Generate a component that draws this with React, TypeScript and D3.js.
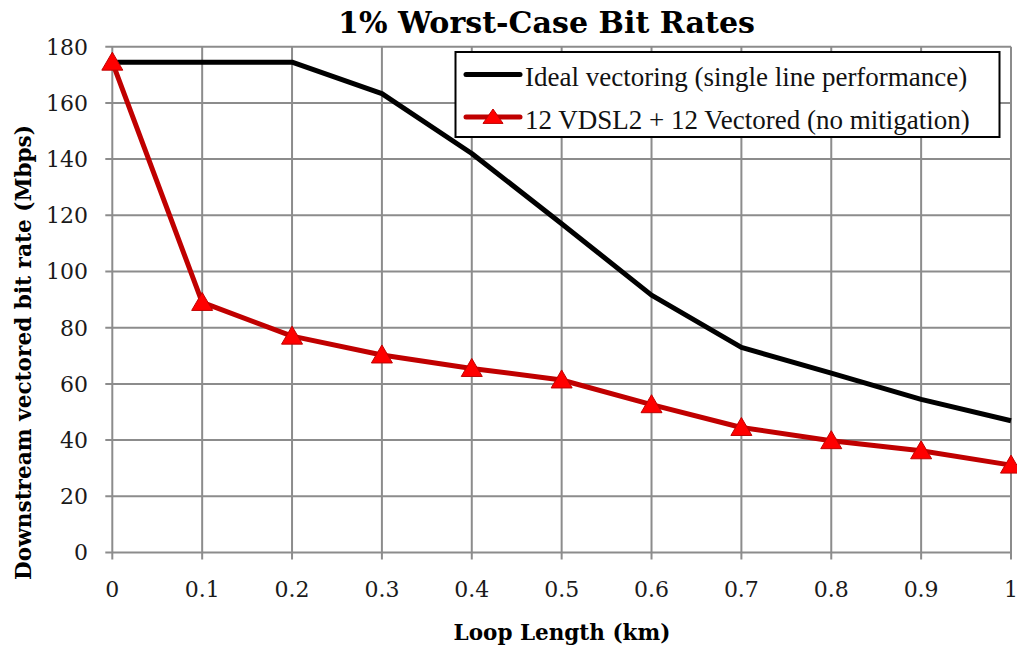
import React from "react";
import * as d3 from "d3";

const loopLength = [0, 0.1, 0.2, 0.3, 0.4, 0.5, 0.6, 0.7, 0.8, 0.9, 1];
const idealVectoring = [174.5, 174.5, 174.5, 163.3, 142, 117, 91.6, 73, 63.8, 54.5, 46.9];
const mixedVectored = [174.5, 89, 77, 70.3, 65.5, 61.4, 52.6, 44.5, 39.8, 36.2, 31.1];
const xTicks = [0, 0.1, 0.2, 0.3, 0.4, 0.5, 0.6, 0.7, 0.8, 0.9, 1];
const yTicks = [0, 20, 40, 60, 80, 100, 120, 140, 160, 180];
const seriesNames = [
  "Ideal vectoring (single line performance)",
  "12 VDSL2 + 12 Vectored (no mitigation)",
];
const title = "1% Worst-Case Bit Rates";
const xLabel = "Loop Length (km)";
const yLabel = "Downstream vectored bit rate (Mbps)";

const W = 1017;
const H = 645;
const SERIF = "'Liberation Serif', serif";
const WIDE = "'DejaVu Serif', serif";

export default function App() {
  const x = d3.scaleLinear().domain([0, 1]).range([112.3, 1011]);
  const y = d3.scaleLinear().domain([0, 180]).range([552.5, 46.7]);
  const grid = "#8c8c8c";

  const line = d3
    .line<number>()
    .x((_, i) => x(loopLength[i]))
    .y((d) => y(d));

  const tri = (cx: number, cy: number, w = 10.5, h = 10) =>
    `M${cx},${cy - h} L${cx + w},${cy + h * 0.8} L${cx - w},${cy + h * 0.8} Z`;

  return (
    <svg
      width={W}
      height={H}
      style={{ position: "absolute", left: 0, top: 0, background: "#fff" }}
    >
      <rect x={0} y={0} width={W} height={H} fill="#fff" />
      {yTicks.map((t) => (
        <g key={"y" + t}>
          <line x1={x(0) - 7} x2={x(1)} y1={y(t)} y2={y(t)} stroke={grid} strokeWidth={2} />
          <text x={88} y={y(t)} dy="0.36em" textAnchor="end" fontSize={22} fontFamily={WIDE} fill="#1a1a1a">
            {t}
          </text>
        </g>
      ))}
      {xTicks.map((t) => (
        <g key={"x" + t}>
          <line x1={x(t)} x2={x(t)} y1={y(180)} y2={y(0) + 7} stroke={grid} strokeWidth={2} />
          <text x={x(t)} y={597} textAnchor="middle" fontSize={22} fontFamily={WIDE} fill="#1a1a1a">
            {d3.format("")(t)}
          </text>
        </g>
      ))}

      <path d={line(idealVectoring) || ""} fill="none" stroke="#000" strokeWidth={5} strokeLinejoin="round" />
      <path d={line(mixedVectored) || ""} fill="none" stroke="#c00000" strokeWidth={5} strokeLinejoin="round" />
      {mixedVectored.map((v, i) => (
        <path key={"m" + i} d={tri(x(loopLength[i]), y(v))} fill="#ff0000" stroke="#c00000" strokeWidth={1} />
      ))}

      <text x={338} y={33} fontSize={29} fontWeight="bold" fontFamily={WIDE} fill="#000" textLength={417} lengthAdjust="spacingAndGlyphs">
        {title}
      </text>

      <text x={562} y={640} textAnchor="middle" fontSize={21.5} fontWeight="bold" fontFamily={WIDE} fill="#000">
        {xLabel}
      </text>
      <text
        transform={`translate(31,352.5) rotate(-90)`}
        textAnchor="middle"
        fontSize={21.5}
        fontWeight="bold"
        fontFamily={WIDE}
        fill="#000"
        textLength={455}
        lengthAdjust="spacingAndGlyphs"
      >
        {yLabel}
      </text>

      <rect x={455.5} y={52} width={544} height={85} fill="#fff" stroke="#000" strokeWidth={2} />
      <line x1={466} x2={520} y1={74.5} y2={74.5} stroke="#000" strokeWidth={5} strokeLinecap="round" />
      <text x={525} y={86} fontSize={27} fontFamily={SERIF} fill="#111">
        {seriesNames[0]}
      </text>
      <line x1={466} x2={520} y1={117} y2={117} stroke="#c00000" strokeWidth={5} strokeLinecap="round" />
      <path d={tri(493, 117, 10, 8)} fill="#ff0000" stroke="#c00000" strokeWidth={1} />
      <text x={525} y={128.5} fontSize={27} fontFamily={SERIF} fill="#111">
        {seriesNames[1]}
      </text>
    </svg>
  );
}
